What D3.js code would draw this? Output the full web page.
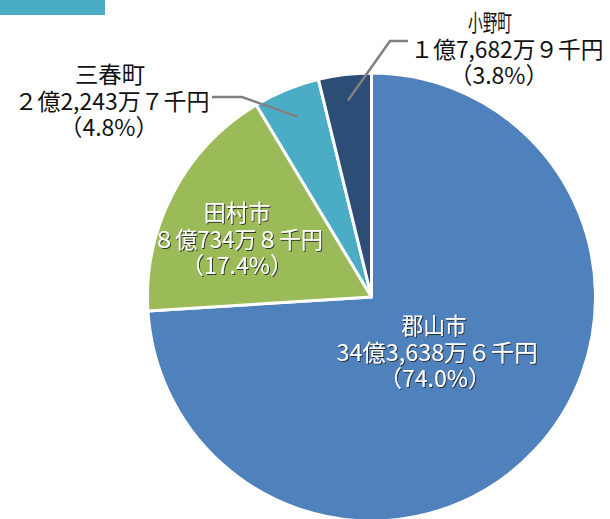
<!DOCTYPE html>
<html>
<head>
<meta charset="utf-8">
<script src="https://cdn.jsdelivr.net/npm/d3@7"></script>
<style>
  body { margin: 0; background: #fff; }
  text { font-family: "Noto Sans CJK JP", sans-serif; }
</style>
</head>
<body>
<svg id="chart"></svg>
<script>
// 金額（千円）
const cities = ["郡山市", "田村市", "三春町", "小野町"];
const amounts = [3436386, 807348, 222437, 176829];
const amountLabels = ["34億3,638万６千円", "８億734万８千円", "２億2,243万７千円", "１億7,682万９千円"];
const percentLabels = ["（74.0%）", "（17.4%）", "（4.8%）", "（3.8%）"];
const colors = ["#4f81bd", "#9bbb59", "#4bacc6", "#2c4d75"];

const width = 610, height = 519;
const cx = 371.5, cy = 297, radius = 224;

const svg = d3.select("#chart")
    .attr("width", width)
    .attr("height", height);

// drop shadow for labels inside the slices
const defs = svg.append("defs");
defs.append("filter")
    .attr("id", "shadow")
    .attr("x", "-10%").attr("y", "-10%")
    .attr("width", "120%").attr("height", "130%")
    .append("feDropShadow")
    .attr("dx", 1).attr("dy", 1)
    .attr("stdDeviation", 0.6)
    .attr("flood-color", "#222")
    .attr("flood-opacity", 0.9);

// top-left colour tab
svg.append("rect")
    .attr("x", 0).attr("y", 0)
    .attr("width", 105).attr("height", 15)
    .attr("fill", "#4bacc6");

const data = cities.map((c, i) => ({ name: c, value: amounts[i], amount: amountLabels[i], pct: percentLabels[i], color: colors[i] }));

const pie = d3.pie().sort(null).value(d => d.value);
const arc = d3.arc().innerRadius(0).outerRadius(radius);

const g = svg.append("g")
    .attr("transform", `translate(${cx}, ${cy})`);

const arcs = pie(data);

g.selectAll("path")
    .data(arcs)
    .enter()
    .append("path")
    .attr("d", arc)
    .attr("fill", d => d.data.color)
    .attr("stroke", "#fff")
    .attr("stroke-width", 3)
    .attr("stroke-linejoin", "round");

// leader lines for the small slices (radius of the inner end, then elbow, then end)
const leaders = [
    { i: 2, r: 195, elbow: [242 - cx, 97 - cy], end: [212 - cx, 97 - cy] },
    { i: 3, r: 198, elbow: [390 - cx, 41 - cy], end: [408 - cx, 41 - cy] }
];
leaders.forEach(l => {
    const a = arcs[l.i];
    const mid = (a.startAngle + a.endAngle) / 2;
    const p = [Math.sin(mid) * l.r, -Math.cos(mid) * l.r];
    g.append("polyline")
        .attr("points", [p, l.elbow, l.end].map(q => q.join(",")).join(" "))
        .attr("fill", "none")
        .attr("stroke", "#808080")
        .attr("stroke-width", 2.5);
});

// label positions (centre x per line, first baseline, line widths; null = natural)
const labelPos = [
    { x: [434, 437, 435], y: 334, inside: true,  w: [65, 201, null] },
    { x: [237, 238, 237], y: 221, inside: true,  w: [67, 170, null] },
    { x: [110, 112, 109], y: 83,  inside: false, w: [70, 195, null] },
    { x: [490, 507, 499], y: 31,  inside: false, w: [44, 193, null] }
];
const lineH = 26.5;

const labels = svg.selectAll("text.label")
    .data(data)
    .enter()
    .append("text")
    .attr("class", "label")
    .attr("text-anchor", "middle")
    .attr("font-size", "23px")
    .attr("fill", (d, i) => labelPos[i].inside ? "#fff" : "#111")
    .attr("filter", (d, i) => labelPos[i].inside ? "url(#shadow)" : null);

labels.each(function(d, i) {
    const t = d3.select(this);
    const p = labelPos[i];
    [d.name, d.amount, d.pct].forEach((s, k) => {
        const ts = t.append("tspan")
            .attr("x", p.x[k])
            .attr("y", p.y + k * lineH)
            .text(s);
        if (p.w[k]) {
            ts.attr("textLength", p.w[k])
              .attr("lengthAdjust", "spacingAndGlyphs");
        }
    });
});
</script>
</body>
</html>
